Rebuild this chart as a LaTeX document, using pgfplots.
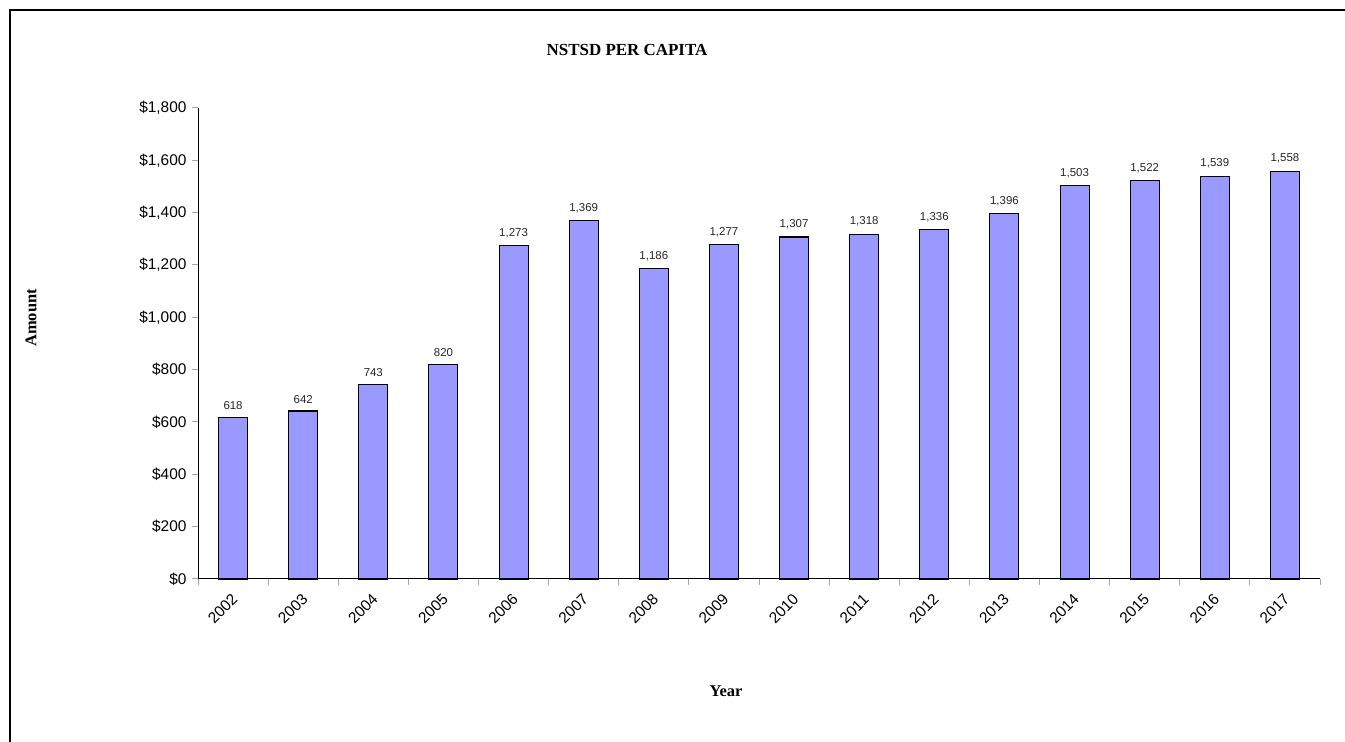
\documentclass[border=0pt]{standalone}
\usepackage{fontspec}
\setmainfont{Liberation Sans}
\newfontfamily\titlefont{Liberation Serif}
\usepackage{pgfplots}
\pgfplotsset{compat=1.18}
\definecolor{barfill}{HTML}{9999FF}
\begin{document}
\begin{tikzpicture}
\useasboundingbox (0,0) rectangle (1345bp,742bp);
\draw[line width=1.2bp] (10bp,0) -- (10bp,732bp) -- (1345bp,732bp);
\begin{axis}[
  at={(198bp,163bp)}, anchor=south west,
  scale only axis, width=1122bp, height=471bp,
  xmin=-0.5, xmax=15.5, ymin=0, ymax=1800,
  axis x line*=bottom, axis y line*=left,
  axis line style={black, line width=1bp, -},
  ybar, bar width=29bp,
  ytick={0,200,...,1800},
  yticklabel={\$\pgfmathprintnumber{\tick}},
  /pgf/number format/1000 sep={,},
  /pgf/number format/assume math mode=true,
  xtick={-0.5,0.5,...,15.5},
  x tick label as interval,
  xticklabels={2002,2003,2004,2005,2006,2007,2008,2009,2010,2011,2012,2013,2014,2015,2016,2017},
  tick align=outside,
  major tick length=6bp,
  tick style={gray!70, line width=1bp},
  y tick label style={font=\fontsize{15.5}{18}\selectfont, xshift=-2bp},
  x tick label style={font=\fontsize{15.5}{18}\selectfont, rotate=45, anchor=north east, inner sep=0bp, xshift=-7bp, yshift=-4bp},
  nodes near coords,
  every node near coord/.append style={font=\fontsize{11.5}{13}\selectfont, text=black!85, yshift=4bp},
  clip=false,
]
\addplot[fill=barfill, draw=black, line width=1.1bp] coordinates {
(0,618) (1,642) (2,743) (3,820) (4,1273) (5,1369) (6,1186) (7,1277)
(8,1307) (9,1318) (10,1336) (11,1396) (12,1503) (13,1522) (14,1539) (15,1558)};
\end{axis}
\node[font=\titlefont\bfseries\fontsize{17}{20}\selectfont] at (627bp,692bp) {NSTSD PER CAPITA};
\node[font=\titlefont\bfseries\fontsize{16.5}{19}\selectfont, rotate=90] at (31bp,424bp) {Amount};
\node[font=\titlefont\bfseries\fontsize{16.5}{19}\selectfont] at (726bp,51bp) {Year};
\end{tikzpicture}
\end{document}
